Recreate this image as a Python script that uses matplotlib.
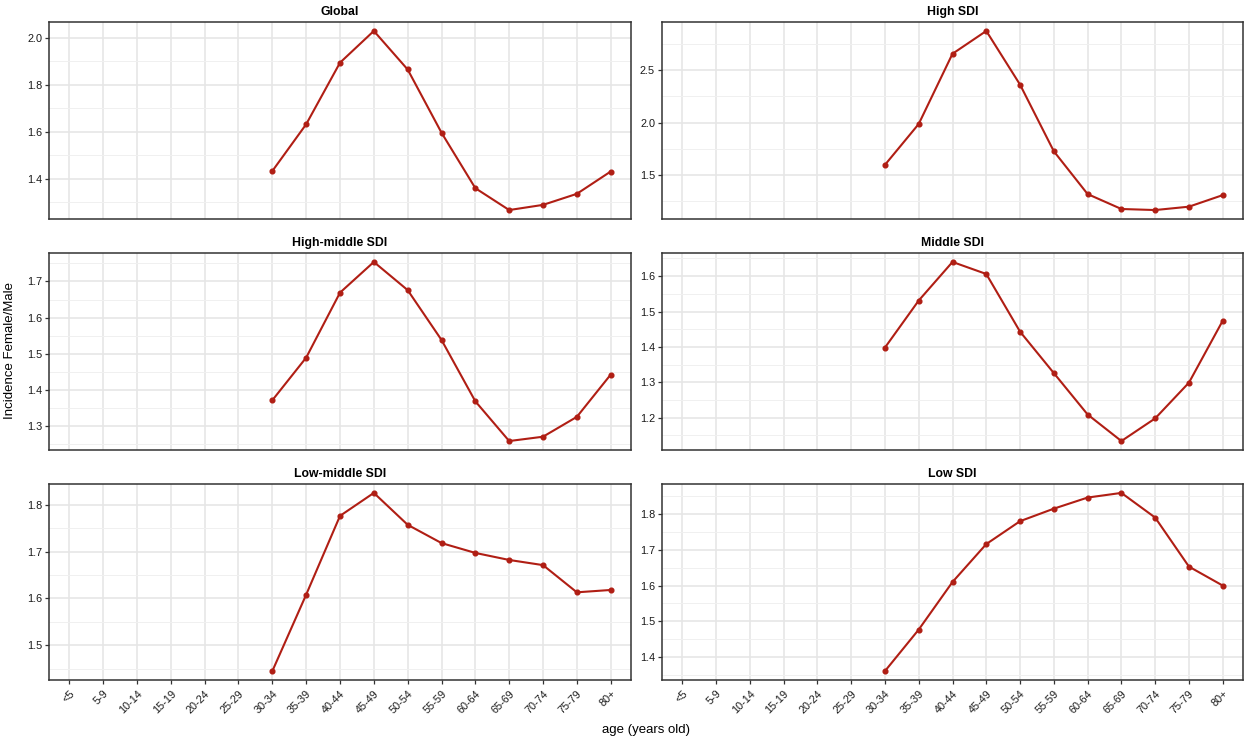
import numpy as np
import matplotlib
matplotlib.use("Agg")
import matplotlib.pyplot as plt
from matplotlib.ticker import MultipleLocator, FormatStrFormatter

plt.rcParams['font.family'] = ['Liberation Sans', 'DejaVu Sans']

# age groups (x categories)
ages = ['<5', '5-9', '10-14', '15-19', '20-24', '25-29', '30-34', '35-39',
        '40-44', '45-49', '50-54', '55-59', '60-64', '65-69', '70-74',
        '75-79', '80+']

# female/male incidence ratio, from 30-34 onward
start_age = '30-34'
global_vals = [1.432, 1.631, 1.893, 2.028, 1.864, 1.595, 1.359, 1.266, 1.288, 1.335, 1.430]
high_sdi = [1.598, 1.987, 2.655, 2.872, 2.361, 1.727, 1.320, 1.178, 1.168, 1.200, 1.310]
high_middle_sdi = [1.371, 1.489, 1.669, 1.754, 1.676, 1.538, 1.368, 1.258, 1.270, 1.325, 1.442]
middle_sdi = [1.398, 1.531, 1.640, 1.606, 1.443, 1.326, 1.209, 1.134, 1.198, 1.299, 1.474]
low_middle_sdi = [1.445, 1.608, 1.776, 1.825, 1.757, 1.718, 1.697, 1.682, 1.671, 1.613, 1.618]
low_sdi = [1.361, 1.477, 1.610, 1.716, 1.780, 1.815, 1.846, 1.859, 1.790, 1.653, 1.600]

titles = ['Global', 'High SDI', 'High-middle SDI', 'Middle SDI', 'Low-middle SDI', 'Low SDI']
series = [global_vals, high_sdi, high_middle_sdi, middle_sdi, low_middle_sdi, low_sdi]
y_steps = [0.2, 0.5, 0.1, 0.1, 0.1, 0.1]

line_col = '#B01E14'
grid_col = '#E6E6E6'

fig = plt.figure(figsize=(12.48, 7.41), dpi=100)

W, H = 1248, 741
cols = [(49, 631), (662, 1243)]
rows = [(22, 219), (253, 450), (484, 680)]

x_all = np.arange(len(ages))
first = ages.index(start_age)

for i, (title, vals, step) in enumerate(zip(titles, series, y_steps)):
    r, c = divmod(i, 2)
    x0, x1 = cols[c]
    y0, y1 = rows[r]
    ax = fig.add_axes([x0 / W, 1 - y1 / H, (x1 - x0) / W, (y1 - y0) / H])

    xs = x_all[first:first + len(vals)]
    ax.plot(xs, vals, color=line_col, lw=1.5, marker='o', ms=3.4, zorder=3)
    ax.set_xlim(-0.6, len(ages) - 1 + 0.6)
    ax.margins(y=0.05)

    ax.yaxis.set_major_locator(MultipleLocator(step))
    ax.yaxis.set_minor_locator(MultipleLocator(step / 2))
    ax.yaxis.set_major_formatter(FormatStrFormatter('%.1f'))
    ax.set_xticks(x_all)

    ax.grid(True, which='major', color=grid_col, lw=1.2, zorder=0)
    ax.grid(True, which='minor', axis='y', color='#F0F0F0', lw=0.7, zorder=0)
    ax.set_axisbelow(True)

    for s in ax.spines.values():
        s.set_color('#333333')
        s.set_linewidth(1.1)

    ax.tick_params(axis='y', which='major', length=3, width=0.9, color='#333333',
                   labelsize=7.8, labelcolor='#1a1a1a', pad=2)
    ax.tick_params(axis='y', which='minor', length=0)
    if r == 2:
        ax.set_xticklabels(ages, rotation=45, ha='right', va='top',
                           rotation_mode='anchor')
        ax.tick_params(axis='x', length=3, width=0.9, color='#333333',
                       labelsize=7.8, labelcolor='#1a1a1a', pad=3)
    else:
        ax.set_xticklabels([])
        ax.tick_params(axis='x', length=0)

    ax.set_title(title, fontsize=8.8, fontweight='bold', pad=5)

fig.text(10 / W, 1 - 351 / H, 'Incidence Female/Male', rotation=90,
         ha='center', va='center', fontsize=9.5)
fig.text(646 / W, 1 - 730 / H, 'age (years old)', ha='center', va='center',
         fontsize=9.5)

fig.savefig('out.png', dpi=100)
